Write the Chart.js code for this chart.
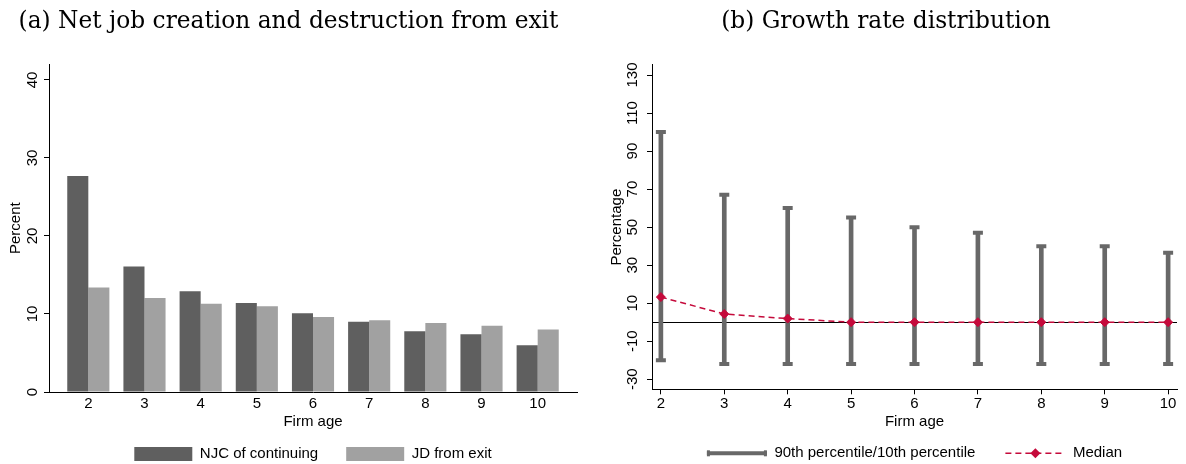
<!DOCTYPE html>
<html>
<head>
<meta charset="utf-8">
<script src="https://cdn.jsdelivr.net/npm/chart.js@4.4.1/dist/chart.umd.min.js"></script>
<style>
  html, body { margin: 0; padding: 0; background: #fff; }
  #wrap { position: relative; width: 1186px; height: 464px; }
  .panel { position: absolute; top: 0; width: 593px; height: 464px; }
  #left { left: 0; }
  #right { left: 593px; }
</style>
</head>
<body>
<div id="wrap">
  <div class="panel" id="left"><canvas id="jobs"></canvas></div>
  <div class="panel" id="right"><canvas id="growth"></canvas></div>
</div>
<script>
"use strict";
// firm age categories shared by both panels
var firmAge = [2, 3, 4, 5, 6, 7, 8, 9, 10];

// (a) net job creation of continuing firms vs job destruction from exit, percent
var njcContinuing = [27.7, 16.1, 12.9, 11.4, 10.1, 9.0, 7.8, 7.4, 6.0];
var jdExit = [13.4, 12.05, 11.3, 11.0, 9.6, 9.2, 8.85, 8.5, 8.0];
var percentTicks = [0, 10, 20, 30, 40];

// (b) growth rate distribution by age, percentage
var p90 = [100, 67, 60, 55, 50, 47, 40, 40, 36.5];
var p10 = [-20, -22, -22, -22, -22, -22, -22, -22, -22];
var median = [13.2, 4.3, 1.9, 0, 0, 0, 0, 0, 0];
var growthTicks = [-30, -10, 10, 30, 50, 70, 90, 110, 130];

var darkGray = "#5f5f5f", lightGray = "#a1a1a1", whiskerGray = "#686868", cranberry = "#c50a3b";

Chart.defaults.font.family = "'Liberation Sans', Arial, sans-serif";
Chart.defaults.font.size = 15;
Chart.defaults.color = "#000";
Chart.defaults.animation = false;

function pts(ys) {
    return firmAge.map(function (a, i) { return { x: a, y: ys[i] }; });
}
function fixTicks(list) {
    return function (scale) { scale.ticks = list.map(function (v) { return { value: v }; }); };
}
var titleFont = { family: "'DejaVu Serif', 'Liberation Serif', serif", size: 23.3, weight: "normal" };

// ---------- panel (a) ----------
new Chart(document.getElementById("jobs"), {
    type: "bar",
    data: {
        datasets: [{
            label: "NJC of continuing",
            data: pts(njcContinuing),
            backgroundColor: darkGray,
            borderWidth: 0
        }, {
            label: "JD from exit",
            data: pts(jdExit),
            backgroundColor: lightGray,
            borderWidth: 0
        }]
    },
    options: {
        responsive: true,
        maintainAspectRatio: false,
        events: [],
        layout: { padding: { left: 0, right: 16, top: 0, bottom: 0 } },
        datasets: { bar: { categoryPercentage: 0.75, barPercentage: 1 } },
        plugins: {
            tooltip: { enabled: false },
            title: {
                display: true,
                text: "(a) Net job creation and destruction from exit",
                font: titleFont,
                color: "#000",
                padding: { top: 8, bottom: 28.4 }
            },
            legend: {
                position: "bottom",
                fullSize: false,
                maxHeight: 45.5,
                labels: { boxWidth: 58, boxHeight: 14, padding: 28, color: "#000" }
            }
        },
        scales: {
            x: {
                type: "linear",
                offset: false,
                min: 1.3,
                max: 10.7,
                afterBuildTicks: fixTicks(firmAge),
                afterFit: function (s) { s.height = 26.5; },
                grid: { display: true, offset: false, drawOnChartArea: false, drawTicks: false },
                border: { display: true, color: "#000", width: 1 },
                ticks: { padding: 3, autoSkip: false, maxRotation: 0 },
                title: { display: true, text: "Firm age", padding: { top: 0, bottom: -12.5 } }
            },
            y: {
                min: 0,
                max: 42,
                afterBuildTicks: fixTicks(percentTicks),
                afterFit: function (s) { s.width = 49; },
                grid: { display: true, drawOnChartArea: false, drawTicks: true, tickLength: 5, color: "#000" },
                border: { display: true, color: "#000", width: 1 },
                ticks: { minRotation: 90, maxRotation: 90, crossAlign: "center", padding: 2.65, autoSkip: false },
                title: { display: true, text: "Percent", padding: { top: 7, bottom: 0 } }
            }
        }
    }
});

// ---------- panel (b) ----------
// thin reference line at zero growth, under the whiskers
var zeroLine = {
    id: "zeroLine",
    beforeDatasetsDraw: function (chart) {
        var ctx = chart.ctx, area = chart.chartArea;
        var y = Math.round(chart.scales.y.getPixelForValue(0)) + 0.5;
        ctx.save();
        ctx.strokeStyle = "#000";
        ctx.lineWidth = 1;
        ctx.beginPath();
        ctx.moveTo(area.left, y);
        ctx.lineTo(area.right, y);
        ctx.stroke();
        ctx.restore();
    }
};

// end caps on the whisker key and the diamond on the median key
var legendMarks = {
    id: "legendMarks",
    afterDraw: function (chart) {
        var boxes = chart.legend && chart.legend.legendHitBoxes;
        if (!boxes || boxes.length < 2) return;
        var ctx = chart.ctx, w = 60, h = 15;
        var b0 = boxes[0], b1 = boxes[1];
        ctx.save();
        ctx.fillStyle = whiskerGray;
        var cy0 = b0.top + h / 2;
        ctx.fillRect(b0.left, cy0 - 3, 3, 6);
        ctx.fillRect(b0.left + w - 3, cy0 - 3, 3, 6);
        var cx = b1.left + w / 2, cy = b1.top + h / 2, r = 5;
        ctx.fillStyle = cranberry;
        ctx.beginPath();
        ctx.moveTo(cx, cy - r);
        ctx.lineTo(cx + r, cy);
        ctx.lineTo(cx, cy + r);
        ctx.lineTo(cx - r, cy);
        ctx.closePath();
        ctx.fill();
        ctx.restore();
    }
};

new Chart(document.getElementById("growth"), {
    type: "bar",
    data: {
        datasets: [{
            type: "line",
            label: "Median",
            data: pts(median),
            borderColor: cranberry,
            borderWidth: 1.5,
            borderDash: [6, 4],
            pointStyle: "rectRot",
            pointRadius: 4.5,
            pointBackgroundColor: cranberry,
            pointBorderColor: cranberry,
            pointBorderWidth: 1,
            fill: false,
            order: 0
        }, {
            type: "line",
            label: "caps",
            data: pts(p90).concat(pts(p10)),
            showLine: false,
            pointStyle: "line",
            pointRadius: 5,
            pointBorderWidth: 4,
            pointBorderColor: whiskerGray,
            order: 1
        }, {
            label: "90th percentile/10th percentile",
            data: firmAge.map(function (a, i) { return { x: a, y: [p10[i], p90[i]] }; }),
            backgroundColor: whiskerGray,
            borderWidth: 0,
            barThickness: 4,
            order: 2
        }]
    },
    options: {
        responsive: true,
        maintainAspectRatio: false,
        events: [],
        layout: { padding: { left: 0, right: 7, top: 0, bottom: 0 } },
        plugins: {
            tooltip: { enabled: false },
            title: {
                display: true,
                text: "(b) Growth rate distribution",
                font: titleFont,
                color: "#000",
                padding: { top: 8, bottom: 29 }
            },
            legend: {
                position: "bottom",
                fullSize: false,
                maxHeight: 48.2,
                labels: {
                    usePointStyle: true,
                    pointStyleWidth: 60,
                    boxHeight: 15,
                    padding: 30,
                    color: "#000",
                    generateLabels: function () {
                        return [{
                            text: "90th percentile/10th percentile",
                            pointStyle: "line",
                            strokeStyle: whiskerGray,
                            fillStyle: whiskerGray,
                            lineWidth: 4,
                            lineDash: [],
                            datasetIndex: 2
                        }, {
                            text: "Median",
                            pointStyle: "line",
                            strokeStyle: cranberry,
                            fillStyle: cranberry,
                            lineWidth: 1.5,
                            lineDash: [6, 4],
                            datasetIndex: 0
                        }];
                    }
                }
            }
        },
        scales: {
            x: {
                type: "linear",
                offset: false,
                min: 1.86,
                max: 10.14,
                afterBuildTicks: fixTicks(firmAge),
                afterFit: function (s) { s.height = 26.5; },
                grid: { display: true, offset: false, drawOnChartArea: false, drawTicks: true, tickLength: 5, color: "#000" },
                border: { display: true, color: "#000", width: 1 },
                ticks: { padding: 1, autoSkip: false, maxRotation: 0 },
                title: { display: true, text: "Firm age", padding: { top: 0, bottom: -14.9 } }
            },
            y: {
                min: -35.3,
                max: 135.3,
                afterBuildTicks: fixTicks(growthTicks),
                afterFit: function (s) { s.width = 59; },
                grid: { display: true, drawOnChartArea: false, drawTicks: true, tickLength: 5, color: "#000" },
                border: { display: true, color: "#000", width: 1 },
                ticks: { minRotation: 90, maxRotation: 90, crossAlign: "center", padding: 1.5, autoSkip: false },
                title: { display: true, text: "Percentage", padding: { top: 15, bottom: 0 } }
            }
        }
    },
    plugins: [zeroLine, legendMarks]
});
</script>
</body>
</html>
